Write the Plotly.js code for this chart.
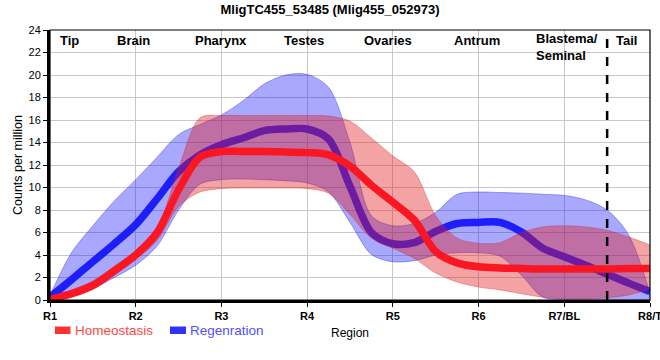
<!DOCTYPE html>
<html>
<head>
<meta charset="utf-8">
<script src="https://cdn.plot.ly/plotly-3.0.1.min.js"></script>
<style>html,body{margin:0;padding:0;background:#fff;}#chart{width:660px;height:360px;}</style>
</head>
<body>
<div id="chart"></div>
<script>
// Region positions (1 = R1 ... 8 = R8/T), sampled every quarter region
const pos = [1,1.25,1.5,1.75,2,2.25,2.5,2.75,3,3.25,3.5,3.75,4,4.25,4.5,4.75,5,5.25,5.5,5.75,6,6.25,6.5,6.75,7,7.25,7.5,7.75,8];
const tickVals = [1,2,3,4,5,6,7,8];
const tickLabels = ["R1","R2","R3","R4","R5","R6","R7/BL","R8/T"];
const regionNames = ["Tip","Brain","Pharynx","Testes","Ovaries","Antrum","Blastema/<br>Seminal","Tail"];

// Homeostasis (red)
const homeoMean  = [0.05,0.55,1.3,2.6,4.0,6.0,9.8,12.7,13.2,13.2,13.2,13.15,13.1,12.9,11.9,10.2,8.7,7.1,4.3,3.3,2.95,2.85,2.8,2.75,2.75,2.75,2.75,2.8,2.8];
const homeoUpper = [0.3,0.9,1.7,3.0,4.4,6.4,11.7,16.2,16.4,16.4,16.4,16.4,16.4,16.35,15.9,14.4,12.8,11.4,7.5,5.5,5.05,5.1,6.0,6.5,6.6,6.5,6.2,5.6,4.9];
const homeoLower = [0.0,0.25,0.95,2.2,3.6,5.3,8.3,9.6,9.9,9.95,9.95,9.95,9.9,9.5,7.6,5.5,4.6,3.7,2.4,1.6,1.15,0.9,0.55,0.25,0.1,0.1,0.2,0.45,0.95];

// Regenration (blue)
const regenMean  = [0.25,1.8,3.4,5.0,6.7,9.0,11.4,12.9,13.8,14.4,15.05,15.2,15.2,14.3,10.1,6.0,5.0,5.1,6.1,6.8,6.9,6.9,6.05,4.6,3.85,3.1,2.3,1.5,0.75];
const regenUpper = [0.4,4.2,6.6,8.8,10.7,12.7,14.7,15.6,16.45,17.7,19.2,20.0,20.05,18.9,14.0,7.5,6.6,6.8,7.8,9.4,9.6,9.55,9.5,9.4,9.3,8.9,8.0,5.8,0.6];
const regenLower = [0.0,0.4,1.0,2.0,3.1,4.8,8.0,10.3,10.7,10.75,10.7,10.6,10.4,9.6,6.9,4.05,3.4,3.5,4.0,4.2,4.2,3.9,2.2,0.25,0.05,0.05,0.05,0.05,0.0];

const dividerPos = 7.5;

const RED_FILL = 'rgba(225,25,25,0.40)';
const RED_EDGE = 'rgba(210,40,40,0.45)';
const BLUE_FILL = 'rgba(20,20,255,0.37)';
const BLUE_EDGE = 'rgba(20,20,230,0.45)';
const RED_LINE = 'rgb(250,22,34)';
const BLUE_LINE = 'rgb(30,30,250)';

const sm = 0.9;
const traces = [
  {x: pos, y: regenLower, type:'scatter', mode:'lines', line:{color:BLUE_EDGE, width:0.8, shape:'spline', smoothing:sm}, hoverinfo:'skip', showlegend:false},
  {x: pos, y: regenUpper, type:'scatter', mode:'lines', fill:'tonexty', fillcolor:BLUE_FILL, line:{color:BLUE_EDGE, width:0.8, shape:'spline', smoothing:sm}, hoverinfo:'skip', showlegend:false},
  {x: pos, y: regenMean, type:'scatter', mode:'lines', name:'Regenration', line:{color:BLUE_LINE, width:7.5, shape:'spline', smoothing:sm}, showlegend:false},
  {x: pos, y: homeoLower, type:'scatter', mode:'lines', line:{color:RED_EDGE, width:0.8, shape:'spline', smoothing:sm}, hoverinfo:'skip', showlegend:false},
  {x: pos, y: homeoUpper, type:'scatter', mode:'lines', fill:'tonexty', fillcolor:RED_FILL, line:{color:RED_EDGE, width:0.8, shape:'spline', smoothing:sm}, hoverinfo:'skip', showlegend:false},
  {x: pos, y: homeoMean, type:'scatter', mode:'lines', name:'Homeostasis', line:{color:RED_LINE, width:7.5, shape:'spline', smoothing:sm}, showlegend:false}
];

// helpers for placement in paper coords (plot area 50..650 x, 30..300 y)
const px = v => (v - 50) / 600;
const py = v => (300 - v) / 270;

const regionCenters = [69,133,220.5,304,388,476.5,534,626];
const annotations = regionNames.map((t,i) => ({
  text: '<b>' + t + '</b>', xref:'paper', yref:'paper',
  x: px(regionCenters[i]), y: i === 6 ? py(47) : py(40),
  xanchor: i === 6 ? 'left' : 'center', yanchor:'middle', align:'left',
  showarrow:false, font:{family:'Liberation Sans, Arial, sans-serif', size:13, color:'#000'}
}));
annotations.push({text:'Homeostasis', xref:'paper', yref:'paper', x:px(73), y:py(330), xanchor:'left', yanchor:'middle', showarrow:false, font:{family:'Liberation Sans, Arial, sans-serif', size:13.5, color:'rgb(255,70,70)'}});
annotations.push({text:'Regenration', xref:'paper', yref:'paper', x:px(188), y:py(330), xanchor:'left', yanchor:'middle', showarrow:false, font:{family:'Liberation Sans, Arial, sans-serif', size:13.5, color:'rgb(80,80,255)'}});

const shapes = [
  {type:'line', xref:'x', yref:'paper', x0:dividerPos, x1:dividerPos, y0:0, y1:1, line:{color:'#000', width:2.5, dash:'dash'}},
  {type:'rect', xref:'paper', yref:'paper', x0:0, x1:1, y0:0, y1:1, line:{color:'#000', width:1.2}, fillcolor:'rgba(0,0,0,0)'},
  {type:'rect', xref:'paper', yref:'paper', x0:px(55), x1:px(70.5), y0:py(334), y1:py(326.5), line:{width:0}, fillcolor:'rgb(255,50,50)'},
  {type:'rect', xref:'paper', yref:'paper', x0:px(170), x1:px(186), y0:py(334), y1:py(326.5), line:{width:0}, fillcolor:'rgb(50,50,255)'}
];

const layout = {
  width:660, height:360,
  margin:{l:50, r:10, t:30, b:60, pad:0},
  paper_bgcolor:'#fff', plot_bgcolor:'#fff',
  font:{family:'Liberation Sans, Arial, sans-serif', color:'#000'},
  title:{text:'<b>MligTC455_53485 (Mlig455_052973)</b>', x:0.5, xanchor:'center', y:0.975, yanchor:'middle', font:{size:13, color:'#000'}},
  showlegend:false,
  xaxis:{range:[1,8], tickvals:tickVals, ticktext:tickLabels.map(t=>'<b>'+t+'</b>'),
    showgrid:true, gridcolor:'#c8c8c8', gridwidth:1, zeroline:false,
    showline:true, linecolor:'#000', linewidth:3, ticks:'outside', ticklen:4, tickcolor:'#000',
    ticklabeloverflow:'allow', tickfont:{size:11}, title:{text:'Region', font:{size:12}, standoff:8}},
  yaxis:{range:[0,24], dtick:2, tick0:0, showgrid:true, gridcolor:'#c8c8c8', gridwidth:1, zeroline:false,
    showline:true, linecolor:'#000', linewidth:3, ticks:'outside', ticklen:4, tickcolor:'#000',
    tickfont:{size:11}, title:{text:'Counts per million', font:{size:12.5}, standoff:4}},
  annotations: annotations,
  shapes: shapes
};

Plotly.newPlot('chart', traces, layout, {displayModeBar:false, staticPlot:true});
</script>
</body>
</html>
